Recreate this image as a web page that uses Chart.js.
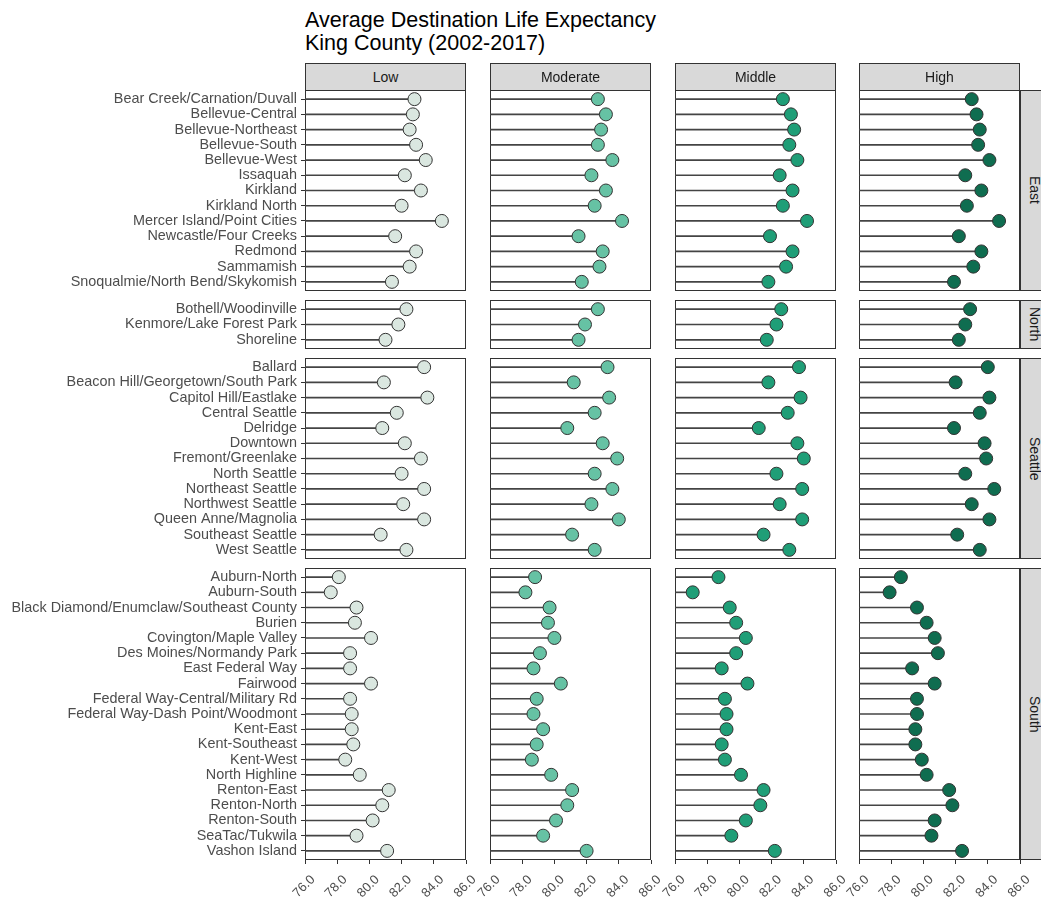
<!DOCTYPE html>
<html>
<head>
<meta charset="utf-8">
<script src="https://cdn.jsdelivr.net/npm/chart.js@4"></script>
<style>
  body { margin: 0; background: #fff; width: 1041px; height: 897px; position: relative; overflow: hidden; font-family: "Liberation Sans", Arial, sans-serif; }
  canvas { position: absolute; left: 0; top: 0; }
  .title { position: absolute; left: 305px; top: 9px; font-size: 21.5px; line-height: 23px; color: #000; white-space: nowrap; }
  .strip { position: absolute; background: #d9d9d9; border: 1px solid #333; box-sizing: border-box; display: flex; align-items: center; justify-content: center; font-size: 14px; color: #1a1a1a; }
  .side { writing-mode: vertical-rl; }
</style>
</head>
<body>
<div class="title">Average Destination Life Expectancy<br>King County (2002-2017)</div>
<script>
const groups = ["Low", "Moderate", "Middle", "High"];
const regions = ["East", "North", "Seattle", "South"];
const xTicks = [76, 78, 80, 82, 84, 86];

const eastNames = ["Bear Creek/Carnation/Duvall", "Bellevue-Central", "Bellevue-Northeast", "Bellevue-South", "Bellevue-West", "Issaquah", "Kirkland", "Kirkland North", "Mercer Island/Point Cities", "Newcastle/Four Creeks", "Redmond", "Sammamish", "Snoqualmie/North Bend/Skykomish"];
const eastLow = [82.8, 82.7, 82.5, 82.9, 83.5, 82.2, 83.2, 82.0, 84.5, 81.6, 82.9, 82.5, 81.4];
const eastModerate = [82.7, 83.2, 82.9, 82.7, 83.6, 82.3, 83.2, 82.5, 84.2, 81.5, 83.0, 82.8, 81.7];
const eastMiddle = [82.7, 83.2, 83.4, 83.1, 83.6, 82.5, 83.3, 82.7, 84.2, 81.9, 83.3, 82.9, 81.8];
const eastHigh = [83.0, 83.3, 83.5, 83.4, 84.1, 82.6, 83.6, 82.7, 84.7, 82.2, 83.6, 83.1, 81.9];

const northNames = ["Bothell/Woodinville", "Kenmore/Lake Forest Park", "Shoreline"];
const northLow = [82.3, 81.8, 81.0];
const northModerate = [82.7, 81.9, 81.5];
const northMiddle = [82.6, 82.3, 81.7];
const northHigh = [82.9, 82.6, 82.2];

const seattleNames = ["Ballard", "Beacon Hill/Georgetown/South Park", "Capitol Hill/Eastlake", "Central Seattle", "Delridge", "Downtown", "Fremont/Greenlake", "North Seattle", "Northeast Seattle", "Northwest Seattle", "Queen Anne/Magnolia", "Southeast Seattle", "West Seattle"];
const seattleLow = [83.4, 80.9, 83.6, 81.7, 80.8, 82.2, 83.2, 82.0, 83.4, 82.1, 83.4, 80.7, 82.3];
const seattleModerate = [83.3, 81.2, 83.4, 82.5, 80.8, 83.0, 83.9, 82.5, 83.6, 82.3, 84.0, 81.1, 82.5];
const seattleMiddle = [83.7, 81.8, 83.8, 83.0, 81.2, 83.6, 84.0, 82.3, 83.9, 82.5, 83.9, 81.5, 83.1];
const seattleHigh = [84.0, 82.0, 84.1, 83.5, 81.9, 83.8, 83.9, 82.6, 84.4, 83.0, 84.1, 82.1, 83.5];

const southNames = ["Auburn-North", "Auburn-South", "Black Diamond/Enumclaw/Southeast County", "Burien", "Covington/Maple Valley", "Des Moines/Normandy Park", "East Federal Way", "Fairwood", "Federal Way-Central/Military Rd", "Federal Way-Dash Point/Woodmont", "Kent-East", "Kent-Southeast", "Kent-West", "North Highline", "Renton-East", "Renton-North", "Renton-South", "SeaTac/Tukwila", "Vashon Island"];
const southLow = [78.1, 77.6, 79.2, 79.1, 80.1, 78.8, 78.8, 80.1, 78.8, 78.9, 78.9, 79.0, 78.5, 79.4, 81.2, 80.8, 80.2, 79.2, 81.1];
const southModerate = [78.8, 78.2, 79.7, 79.6, 80.0, 79.1, 78.7, 80.4, 78.9, 78.7, 79.3, 78.9, 78.6, 79.8, 81.1, 80.8, 80.1, 79.3, 82.0];
const southMiddle = [78.7, 77.1, 79.4, 79.8, 80.4, 79.8, 78.9, 80.5, 79.1, 79.2, 79.2, 78.9, 79.1, 80.1, 81.5, 81.3, 80.4, 79.5, 82.2];
const southHigh = [78.6, 77.9, 79.6, 80.2, 80.7, 80.9, 79.3, 80.7, 79.6, 79.6, 79.5, 79.5, 79.9, 80.2, 81.6, 81.8, 80.7, 80.5, 82.4];

const regionNames = [eastNames, northNames, seattleNames, southNames];
const regionValues = [
  [eastLow, eastModerate, eastMiddle, eastHigh],
  [northLow, northModerate, northMiddle, northHigh],
  [seattleLow, seattleModerate, seattleMiddle, seattleHigh],
  [southLow, southModerate, southMiddle, southHigh],
];

// layout of the facet grid (pixels)
const W = 1041, H = 897;
const colLeft = [305, 490, 675, 859];
const colWidth = 161;
const rowTop = [90, 300, 358, 568];
const rowBottom = [291, 349, 559, 860];
const pointColors = ["#dae7e0", "#66c2a4", "#1f9e77", "#0f6d50"];

const panelBorder = {
  id: "panelBorder",
  beforeDatasetsDraw(chart) {
    const a = chart.chartArea;
    const ctx = chart.ctx;
    ctx.save();
    ctx.strokeStyle = "#333";
    ctx.lineWidth = 1;
    ctx.strokeRect(a.left + 0.5, a.top + 0.5, a.right - a.left - 1, a.bottom - a.top - 1);
    ctx.restore();
  },
};

function Strips() {
  for (let c = 0; c < groups.length; c++) {
    let d = document.createElement("div");
    d.className = "strip";
    d.style.left = colLeft[c] + "px";
    d.style.top = "63px";
    d.style.width = colWidth + "px";
    d.style.height = "28px";
    d.textContent = groups[c];
    document.body.appendChild(d);
  }
  for (let r = 0; r < regions.length; r++) {
    let d = document.createElement("div");
    d.className = "strip side";
    d.style.left = colLeft[3] + colWidth + "px";
    d.style.top = rowTop[r] + "px";
    d.style.width = "30px";
    d.style.height = rowBottom[r] - rowTop[r] + "px";
    d.textContent = regions[r];
    document.body.appendChild(d);
  }
}

function Panel(r, c) {
  const names = regionNames[r];
  const values = regionValues[r][c];
  const first = c == 0;
  const last = r == regions.length - 1;
  const canvas = document.createElement("canvas");
  canvas.width = W;
  canvas.height = H;
  document.body.appendChild(canvas);
  const points = values.map((v, i) => ({ x: v, y: i }));

  new Chart(canvas, {
    type: "bar",
    data: {
      datasets: [
        // points first so they are drawn on top of the stems
        {
          type: "scatter",
          data: points,
          pointRadius: 6.5,
          pointHoverRadius: 6.5,
          backgroundColor: pointColors[c],
          borderColor: "#333",
          borderWidth: 1,
        },
        {
          type: "bar",
          data: points,
          base: 76,
          barThickness: 1,
          backgroundColor: "#444",
          borderWidth: 0,
        },
      ],
    },
    options: {
      indexAxis: "y",
      responsive: false,
      animation: false,
      devicePixelRatio: 1,
      events: [],
      layout: {
        padding: {
          left: first ? 0 : colLeft[c],
          right: W - colLeft[c] - colWidth,
          top: rowTop[r],
          bottom: last ? 0 : H - rowBottom[r],
        },
      },
      plugins: { legend: { display: false }, tooltip: { enabled: false } },
      scales: {
        x: {
          type: "linear",
          display: last,
          min: 76,
          max: 86,
          offset: false,
          afterBuildTicks: (s) => {
            s.ticks = xTicks.map((v) => ({ value: v }));
          },
          afterFit: (s) => {
            s.height = last ? H - rowBottom[r] : 0;
            s.paddingLeft = 0;
            s.paddingRight = 0;
          },
          grid: { display: true, drawOnChartArea: false, drawTicks: true, tickLength: 4, color: "#333", offset: false },
          border: { display: false },
          ticks: {
            autoSkip: false,
            minRotation: 45,
            maxRotation: 45,
            labelOffset: 8,
            padding: 8,
            color: "#4d4d4d",
            font: { family: "Liberation Sans", size: 13 },
            callback: (v) => Number(v).toFixed(1),
          },
        },
        y: {
          type: "linear",
          display: first,
          reverse: true,
          min: -0.6,
          max: names.length - 0.4,
          offset: false,
          afterBuildTicks: (s) => {
            s.ticks = names.map((n, i) => ({ value: i }));
          },
          afterFit: (s) => {
            s.width = first ? colLeft[0] : 0;
            s.paddingTop = 0;
            s.paddingBottom = 0;
          },
          grid: { display: true, drawOnChartArea: false, drawTicks: true, tickLength: 4, color: "#333", offset: false },
          border: { display: false },
          ticks: {
            autoSkip: false,
            padding: 4,
            color: "#4d4d4d",
            font: { family: "Liberation Sans", size: 14.4 },
            callback: (v) => names[v],
          },
        },
      },
    },
    plugins: [panelBorder],
  });
}

for (let r = 0; r < regions.length; r++) {
  for (let c = 0; c < groups.length; c++) {
    Panel(r, c);
  }
}
Strips();
</script>
</body>
</html>
